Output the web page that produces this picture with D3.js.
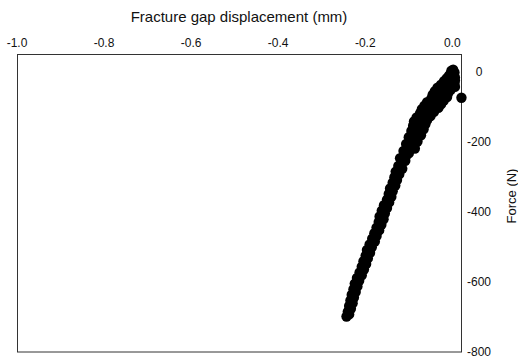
<!DOCTYPE html>
<html>
<head>
<meta charset="utf-8">
<script src="https://cdn.jsdelivr.net/npm/d3@7"></script>
<style>
body { margin: 0; background: #fff; }
text { font-family: "Liberation Sans", Arial, sans-serif; fill: #111; }
.tick-label { font-size: 12px; }
.axis-title { font-size: 15px; }
</style>
</head>
<body>
<div class="chart-container"></div>
<script>

const xTicks = [-1.0, -0.8, -0.6, -0.4, -0.2, 0.0]
const yTicks = [0, -200, -400, -600, -800]

// fracture gap displacement (mm)
const displacement = [
  0.002, -0.002, 0.005, -0.004, 0.003, -0.008, 0.006, -0.013, -0.002, 0.006,
  -0.019, -0.008, 0.005, -0.026, -0.014, 0.006, -0.034, -0.020, -0.004, -0.040,
  -0.026, -0.010, -0.045, -0.032, -0.012, 0.021, -0.048, -0.036, -0.020, -0.058,
  -0.042, -0.026, -0.064, -0.050, -0.032, -0.070, -0.055, -0.042, -0.074, -0.060,
  -0.050, -0.082, -0.068, -0.058, -0.088, -0.074, -0.062, -0.090, -0.078, -0.066,
  -0.094, -0.082, -0.072, -0.100, -0.088, -0.080, -0.106, -0.094, -0.086, -0.112,
  -0.100, -0.106, -0.120, -0.108, -0.116, -0.124, -0.115, -0.130, -0.122, -0.133,
  -0.127, -0.137, -0.131, -0.143, -0.137, -0.146, -0.140, -0.150, -0.145, -0.157,
  -0.150, -0.162, -0.155, -0.167, -0.158, -0.169, -0.163, -0.174, -0.168, -0.179,
  -0.174, -0.184, -0.178, -0.190, -0.185, -0.196, -0.189, -0.199, -0.194, -0.204,
  -0.198, -0.208, -0.203, -0.213, -0.208, -0.219, -0.214, -0.224, -0.218, -0.227,
  -0.222, -0.231, -0.226, -0.234, -0.229, -0.237, -0.233, -0.240, -0.237, -0.243
]

// force (N)
const force = [
  5, 2, -3, -6, -10, -13, -17, -20, -23, -26,
  -28, -32, -35, -38, -41, -44, -46, -50, -53, -56,
  -60, -63, -66, -70, -73, -75, -77, -81, -84, -88,
  -91, -94, -98, -101, -104, -108, -112, -115, -119, -123,
  -127, -131, -135, -139, -143, -147, -151, -155, -160, -165,
  -170, -176, -182, -188, -194, -200, -207, -213, -220, -227,
  -234, -241, -248, -255, -262, -270, -278, -286, -294, -302,
  -310, -318, -326, -334, -342, -350, -358, -366, -374, -382,
  -390, -398, -406, -414, -422, -430, -438, -446, -454, -462,
  -470, -478, -486, -494, -502, -510, -518, -526, -534, -542,
  -550, -558, -566, -574, -582, -590, -598, -606, -614, -622,
  -630, -638, -646, -654, -662, -670, -678, -686, -694, -700
]

const width = 518
const height = 358
const margin = {top: 54, bottom: 6.5, left: 17, right: 57}

const svg = d3.select('.chart-container')
.append('svg')
.attr('width', width)
.attr('height', height)

const xScale = d3.scaleLinear()
.domain([-1.0, 0.02])
.range([margin.left, width - margin.right])

const yScale = d3.scaleLinear()
.domain([-800, 50])
.range([height - margin.bottom, margin.top])

const points = displacement.map((d, i) => ({x: d, y: force[i]}))

// frame
svg.append('rect')
.attr('x', xScale.range()[0] + 0.5)
.attr('y', yScale.range()[1] + 0.5)
.attr('width', xScale.range()[1] - xScale.range()[0])
.attr('height', yScale.range()[0] - yScale.range()[1])
.attr('fill', 'none')
.attr('stroke', '#333')
.attr('stroke-width', 1)

svg.append('g')
.selectAll('circle')
.data(points)
.enter()
.append('circle')
.attr('cx', d => xScale(d.x))
.attr('cy', d => yScale(d.y))
.attr('r', 5.2)
.attr('fill', '#000')

// x axis on top, labels only (plain hyphen like the original)
svg.append('g')
.selectAll('text')
.data(xTicks)
.enter()
.append('text')
.attr('class', 'tick-label')
.attr('text-anchor', 'middle')
.attr('x', d => xScale(d))
.attr('y', margin.top - 7)
.text(d => d.toFixed(1))

// y axis on the right
svg.append('g')
.selectAll('text')
.data(yTicks)
.enter()
.append('text')
.attr('class', 'tick-label')
.attr('text-anchor', 'middle')
.attr('x', xScale.range()[1] + 18)
.attr('y', d => yScale(d))
.attr('dy', '0.35em')
.text(d => d)

svg.append('text')
.attr('class', 'axis-title')
.attr('text-anchor', 'middle')
.attr('x', (xScale.range()[0] + xScale.range()[1]) / 2)
.attr('y', 22)
.text('Fracture gap displacement (mm)')

svg.append('text')
.attr('class', 'axis-title')
.attr('text-anchor', 'middle')
.attr('transform', `translate(${width - 2},196) rotate(-90)`)
.style('font-size', '13px')
.text('Force (N)')

</script>
</body>
</html>
